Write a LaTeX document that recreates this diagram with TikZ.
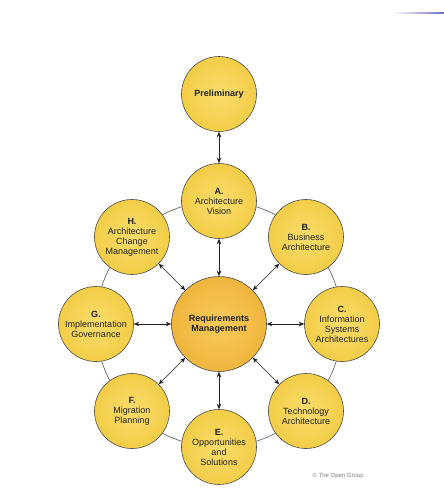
\documentclass[tikz,border=0pt]{standalone}
\usepackage{fontspec}
\setmainfont{Liberation Sans}
\usetikzlibrary{arrows.meta}
\definecolor{nodeout}{HTML}{F3CD47}
\definecolor{nodein}{HTML}{FADD6C}
\definecolor{reqout}{HTML}{F0B63D}
\definecolor{reqin}{HTML}{F8CA5C}
\definecolor{edgegray}{HTML}{4A4A4A}
\definecolor{txt}{HTML}{222222}
\tikzset{
  phase/.style={circle, draw=edgegray, line width=0.6pt, shading=radial, inner color=nodein, outer color=nodeout,
    minimum size=75pt, inner sep=0pt, align=center, font=\fontsize{9}{10}\selectfont, text=txt},
  reqnode/.style={phase, minimum size=95pt, inner color=reqin, outer color=reqout},
  link/.style={<->, >={Stealth[length=5.5pt,width=4.5pt]}, line width=0.6pt, draw=txt},
  ring/.style={draw=edgegray, line width=0.55pt}
}
\begin{document}
\begin{tikzpicture}[x=1pt,y=-1pt]
\useasboundingbox (0,0) rectangle (444,498);
\fill[white] (0,0) rectangle (444,498);
\shade[left color=white, right color=blue!45!gray!80] (393,12.2) rectangle (444,13.8);
\coordinate (ctr) at (219,324);
\draw[ring] (ctr) circle[radius=123];
\node[phase] (pre) at (219,94) {\textbf{Preliminary}};
\node[phase] (a) at (219,201) {\textbf{A.}\\Architecture\\Vision};
\node[phase] (b) at (306,237) {\textbf{B.}\\Business\\Architecture};
\node[phase] (c) at (342,324) {\textbf{C.}\\Information\\Systems\\Architectures};
\node[phase] (d) at (306,411) {\textbf{D.}\\Technology\\Architecture};
\node[phase] (e) at (219,447) {\textbf{E.}\\Opportunities\\and\\Solutions};
\node[phase] (f) at (132,411) {\textbf{F.}\\Migration\\Planning};
\node[phase] (g) at (96,324) {\textbf{G.}\\Implementation\\Governance};
\node[phase] (h) at (132,237) {\textbf{H.}\\Architecture\\Change\\Management};
\node[reqnode] (req) at (ctr) {\textbf{Requirements}\\\textbf{Management}};
\draw[link] (pre) -- (a);
\foreach \n in {a,b,c,d,e,f,g,h} { \draw[link] (req) -- (\n); }
\node[anchor=west, text=gray, font=\fontsize{6}{7}\selectfont] (copy) at (309,476) {© The Open Group};
\end{tikzpicture}
\end{document}
